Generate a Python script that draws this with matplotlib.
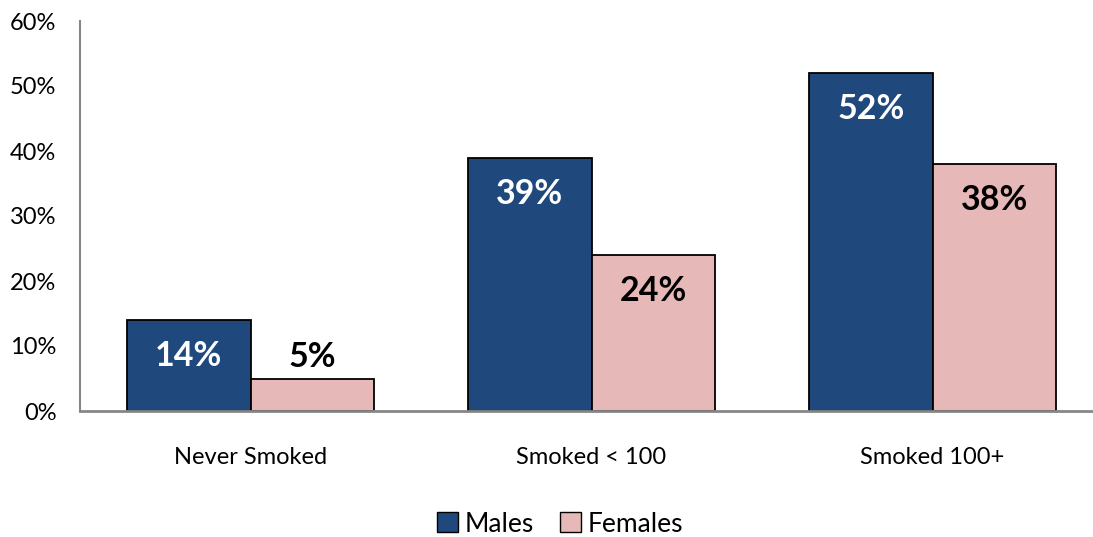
import numpy as np
import matplotlib
matplotlib.use('Agg')
import matplotlib.pyplot as plt
from matplotlib.patches import Patch

plt.rcParams['font.family'] = ['Lato', 'DejaVu Sans']

# smoking status groups and share of each sex
categories = ['Never Smoked', 'Smoked < 100', 'Smoked 100+']
males = [14, 39, 52]
females = [5, 24, 38]

navy = '#1F497D'
pink = '#E6B9B8'

fig = plt.figure(figsize=(10.93, 5.37), dpi=100)
ax = fig.add_axes([80/1093, 1 - 411/537, 1 - 80/1093, (411 - 21)/537])

x = np.arange(len(categories))
w = 0.362
bm = ax.bar(x - w/2, males, w, color=navy, edgecolor='black', linewidth=1.3, label='Males')
bf = ax.bar(x + w/2, females, w, color=pink, edgecolor='black', linewidth=1.3, label='Females')

# value labels just inside the top of each bar (above it when the bar is too short)
for xi, v in zip(x - w/2, males):
    ax.text(xi, v - 5.6, '%d%%' % v, ha='center', va='center', color='white',
            fontsize=24.5, fontweight='bold')
for xi, v in zip(x + w/2, females):
    if v < 8:
        ax.text(xi, v + 3.3, '%d%%' % v, ha='center', va='center', color='black',
                fontsize=24.5, fontweight='bold')
    else:
        ax.text(xi, v - 5.6, '%d%%' % v, ha='center', va='center', color='black',
                fontsize=24.5, fontweight='bold')

ax.set_ylim(0, 60)
ax.set_xlim(-0.5, -0.5 + 1013/341)
ax.set_yticks(range(0, 61, 10))
ax.set_yticklabels(['%d%%' % t for t in range(0, 61, 10)])
ax.set_xticks(x)
ax.set_xticklabels(categories)
ax.tick_params(axis='y', length=0, pad=17, labelsize=17)
ax.tick_params(axis='x', length=0, pad=26, labelsize=17)

for s in ['top', 'right']:
    ax.spines[s].set_visible(False)
ax.spines['left'].set_color('#868686')
ax.spines['bottom'].set_color('#868686')
ax.spines['left'].set_linewidth(1.5)
ax.spines['bottom'].set_linewidth(2)

handles = [Patch(facecolor=navy, edgecolor='black', label='Males'),
           Patch(facecolor=pink, edgecolor='black', label='Females')]
fig.legend(handles=handles, loc='center', bbox_to_anchor=(560/1093, 1 - 524/537),
           ncol=2, frameon=False, fontsize=19, handlelength=0.8, handleheight=0.8,
           handletextpad=0.25, columnspacing=1.0)

fig.savefig('out.png', dpi=100)
